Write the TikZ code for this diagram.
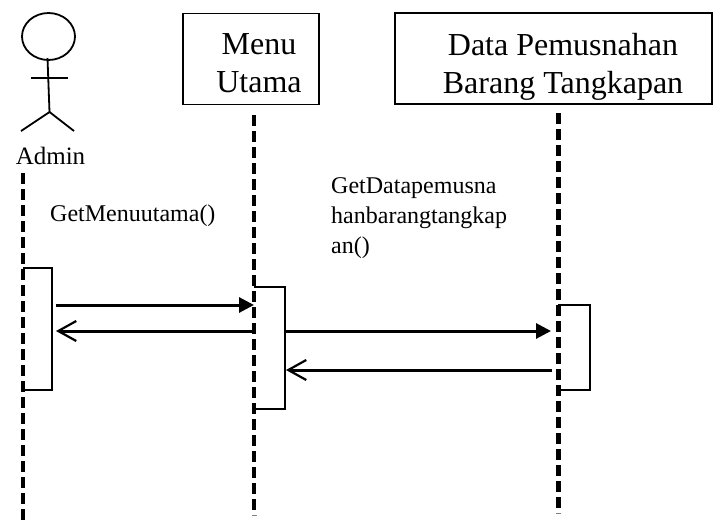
\documentclass[tikz,border=0pt]{standalone}
\usepackage{fontspec}
\setmainfont{Liberation Serif}
\usetikzlibrary{arrows.meta,shapes.geometric}
\tikzset{
  objbox/.style={draw,line width=1.3pt,inner sep=0pt},
  objtext/.style={inner sep=0pt,align=center,font=\fontsize{32}{38.5}\selectfont},
  lifeline/.style={line width=4.2pt,dash pattern=on 11pt off 5pt},
  stub/.style={line width=0.8pt,gray},
  actorline/.style={line width=1.8pt},
  activ/.style={line width=1.5pt},
  synccall/.style={line width=3pt,-{Triangle[length=15pt,width=15pt]}},
  reply/.style={line width=3pt,-{Straight Barb[length=18pt,width=20pt,line width=2.2pt]}},
  lbl/.style={inner sep=0pt,font=\fontsize{24}{30}\selectfont,align=left}
}
\begin{document}
\begin{tikzpicture}[x=1pt,y=-1pt]
\useasboundingbox (0,0) rectangle (720,522);
% actor
\node[draw,ellipse,actorline,minimum width=53pt,minimum height=47pt,inner sep=0pt] (head) at (48.5,36.5) {};
\coordinate (hip) at (49.5,112);
\coordinate (armL) at (31,78);
\coordinate (armR) at (68,78);
\coordinate (legL) at (21,131);
\coordinate (legR) at (74,131);
\coordinate (neck) at (47.5,58);
\draw[actorline] (neck) -- (hip);
\draw[actorline] (armL) -- (armR);
\draw[actorline] (legL) -- (hip) -- (legR);
\node[inner sep=0pt,font=\fontsize{25}{30}\selectfont] (admin) at (50.5,156) {Admin};
% objects
\node[objbox,minimum width=136pt,minimum height=91pt] (menu) at (251,59) {};
\node[objtext] (menutext) at (259,63) {Menu\\Utama};
\node[objbox,minimum width=317pt,minimum height=91pt] (data) at (553.5,58.5) {};
\node[objtext] (datatext) at (563,67) {Data Pemusnahan\\Barang Tangkapan};
% lifelines
\coordinate (l1t) at (23,173); \coordinate (l1b) at (23,522);
\coordinate (l2t) at (254,115); \coordinate (l2b) at (254,511);
\coordinate (l3t) at (558.5,113); \coordinate (l3b) at (558.5,510);
\draw[lifeline] (l1t) -- (l1b);
\draw[lifeline] (l2t) -- (l2b);
\draw[lifeline] (l3t) -- (l3b);
\coordinate (s2a) at (252,515); \coordinate (s2b) at (256.5,515);
\coordinate (s3a) at (556,513); \coordinate (s3b) at (560.5,513);
\draw[stub] (s2a) -- (s2b);
\draw[stub] (s3a) -- (s3b);
% activations
\draw[activ] (23,268) -| (52,390) -- (23,390);
\draw[activ] (254,287) -| (285,409) -- (252,409);
\draw[activ] (558,305) -| (590,390) -- (558,390);
% messages
\coordinate (m1a) at (56,305); \coordinate (m1b) at (254,305);
\coordinate (m2a) at (252,331); \coordinate (m2b) at (56,331);
\coordinate (m3a) at (285,331); \coordinate (m3b) at (551,331);
\coordinate (m4a) at (552,370); \coordinate (m4b) at (286,370);
\draw[synccall] (m1a) -- (m1b);
\draw[reply] (m2a) -- (m2b);
\draw[synccall] (m3a) -- (m3b);
\draw[reply] (m4a) -- (m4b);
% labels
\node[lbl,anchor=west] (lab1) at (50,216) {GetMenuutama()};
\node[lbl,anchor=north west] (lab2) at (331,177.5) {GetDatapemusna\\hanbarangtangkap\\an()};
\end{tikzpicture}
\end{document}
